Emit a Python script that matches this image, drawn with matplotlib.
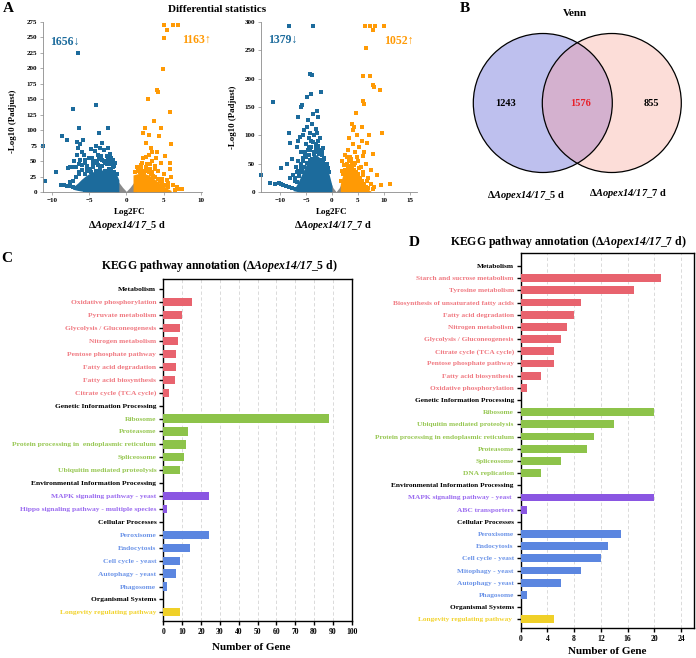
import matplotlib
matplotlib.use('Agg')
import matplotlib.pyplot as plt
from matplotlib.patches import Circle
import numpy as np

plt.rcParams['font.family'] = ['Liberation Serif', 'DejaVu Serif']
plt.rcParams['mathtext.fontset'] = 'custom'
plt.rcParams['mathtext.rm'] = 'Liberation Serif'
plt.rcParams['mathtext.it'] = 'Liberation Serif:italic'
plt.rcParams['mathtext.bf'] = 'Liberation Serif:bold'
plt.rcParams['mathtext.bfit'] = 'Liberation Serif:italic:bold'

# ---------------- DATA ----------------
strain5 = r'Δ$\mathbfit{Aopex14/17}$_5 d'
strain7 = r'Δ$\mathbfit{Aopex14/17}$_7 d'

# Volcano 5 d
v5_down, v5_up = 1656, 1163
v5_grey_x = [-1.5, -1.0, -0.5, 0.0, 0.5, 1.0, 1.4]
v5_grey_top = [20, 16, 8, 1.5, 8, 16, 20]
v5_blue_x = [-7.2, -6.5, -6.0, -5.5, -5.0, -4.5, -4.0, -3.5, -3.0, -2.5, -2.0, -1.5, -1.2, -1.0]
v5_blue_top = [8, 15, 21, 26, 30, 33, 35, 36, 36, 36, 34, 31, 26, 20]
v5_blue_bot = [5, 3, 2, 1, 0, 0, 0, 0, 0, 0, 0, 0, 0, 0]
v5_orange_x = [0.9, 1.5, 2.0, 2.5, 3.0, 3.5, 4.0, 4.5, 5.0, 5.5, 6.0]
v5_orange_top = [28, 30, 31, 30, 28, 24, 19, 15, 11, 6, 3]
v5_blue_px = [-11.2, -10.9, -9.4, -8.6, -8.0, -7.2, -6.5, -6.4, -6.6, -6.2, -4.1, -3.7, -2.5, -7.8, -7.5,
              -8.8, -8.4, -8.0, -7.6, -7.2, -6.8, -6.4, -6.0, -5.6, -5.2, -4.8,
              -6.5, -6.0, -5.7, -5.0, -4.7, -4.2, -3.8, -3.5, -3.0, -2.6, -2.2, -1.8, -1.5, -6.2, -5.5,
              -7.0, -7.2, -6.8, -4.5, -3.2, -2.8, -2.0, -5.2, -6.0, -7.5, -6.6, -4.0, -3.3, -5.8, -2.4,
              -5.3, -4.4, -3.6, -2.9, -2.3, -1.7, -4.9, -3.9, -6.3, -1.3,
              -6.3, -5.9, -5.6, -5.3, -5.0, -4.7, -4.4, -4.1, -3.8, -3.5, -3.2, -2.9, -2.6, -2.3, -2.0,
              -1.8, -1.6, -1.4, -6.8, -7.2, -7.6, -4.6, -3.4, -2.1, -1.9, -5.6, -6.4, -4.0, -3.0, -2.5]
v5_blue_py = [75, 18, 32, 90, 84, 135, 225, 103, 81, 78, 141, 95, 103, 39, 16,
              12, 11, 10, 9.5, 8.5, 7.5, 6.5, 5.5, 4.5, 3.5, 3,
              72, 65, 60, 55, 70, 66, 60, 72, 68, 58, 62, 52, 48, 52, 47,
              50, 40, 40, 50, 52, 48, 46, 42, 44, 40, 60, 75, 80, 84, 72,
              38, 46, 54, 50, 45, 42, 36, 50, 30, 30,
              32, 36, 30, 34, 38, 33, 40, 35, 44, 37, 42, 35, 45, 38, 34,
              40, 33, 30, 24, 18, 14, 56, 58, 55, 50, 52, 46, 48, 50, 52]
v5_orange_px = [6.3, 6.9, 5.1, 5.4, 5.0, 4.9, 4.1, 4.2, 2.9, 5.8, 3.7, 4.6, 2.5, 2.2, 3.0, 6.0, 3.3, 4.1,
                5.9, 5.8, 7.4, 6.5, 5.6, 2.6, 2.1,
                2.0, 2.4, 2.8, 3.2, 3.5, 3.8, 4.2, 4.6, 5.0, 2.2, 3.0, 4.0, 5.5, 6.2, 6.8, 3.5, 2.7,
                4.4, 6.0, 5.2, 1.6, 1.9, 3.4, 4.8, 7.0,
                1.2, 1.5, 1.8, 2.1, 2.4, 2.7, 3.0, 3.3, 3.6, 3.9, 4.2, 4.5, 4.8, 5.1, 1.4, 2.0, 2.6, 3.2,
                3.9, 5.6]
v5_orange_py = [270, 270, 270, 261, 248, 199, 165, 162, 150, 129, 115, 103, 104, 95, 92, 78, 72, 65,
                47, 38, 6, 4, 9, 57, 47,
                40, 35, 45, 38, 50, 42, 35, 48, 30, 55, 60, 55, 20, 12, 8, 65, 80,
                90, 25, 58, 34, 38, 33, 22, 5,
                33, 36, 32, 35, 31, 34, 32, 29, 27, 24, 21, 18, 15, 12, 40, 44, 40, 45,
                38, 15]

# Volcano 7 d
v7_down, v7_up = 1379, 1052
v7_grey_x = [-0.4, 0.2, 0.8, 1.4, 2.0]
v7_grey_top = [20, 8, 1, 8, 20]
v7_blue_x = [-7.5, -7.0, -6.5, -6.0, -5.5, -5.0, -4.5, -4.0, -3.5, -3.0, -2.5, -2.0, -1.5, -1.0, -0.5, 0.0]
v7_blue_top = [5, 10, 18, 28, 38, 48, 56, 62, 66, 66, 62, 58, 52, 44, 30, 12]
v7_blue_bot = [3, 2, 1, 0, 0, 0, 0, 0, 0, 0, 0, 0, 0, 0, 0, 0]
v7_orange_x = [1.6, 2.0, 2.5, 3.0, 3.5, 4.0, 4.5, 5.0, 5.5, 6.0, 6.5, 7.0, 7.5]
v7_orange_top = [14, 28, 38, 44, 46, 44, 38, 31, 24, 17, 10, 5, 2]
v7_blue_px = [-13.7, -11.3, -8.3, -3.6, -4.2, -3.8, -2.1, -4.1, -4.8, -5.7, -6.0, -2.9, -3.6, -6.5, -2.6,
              -4.6, -8.3, -8.0, -8.7, -9.8, -7.6, -6.8, -6.2, -5.3, -2.8,
              -11.9, -11.0, -10.2, -9.8, -9.4, -8.8, -8.2, -7.6, -7.0, -6.5,
              -7.0, -6.5, -6.0, -5.5, -5.0, -4.5, -4.0, -3.5, -3.0, -2.5, -2.0, -1.5, -5.2, -4.2, -3.3,
              -6.8, -7.5, -8.0, -5.8, -4.8, -3.8, -4.3, -3.1, -6.6, -5.6, -2.3, -1.8,
              -5.9, -4.4, -3.4, -2.7, -1.2, -7.2, -6.3, -5.1,
              -6.8, -6.3, -5.8, -5.3, -4.8, -4.3, -3.8, -3.3, -2.8, -2.3, -1.8, -1.3, -0.8, -5.5, -4.5,
              -3.5, -2.5, -1.5, -5.0, -4.0, -3.0, -2.0, -6.0, -6.5, -7.2, -1.0, -0.6, -4.6, -3.7, -2.6]
v7_blue_py = [30, 158, 292, 292, 208, 206, 177, 172, 167, 153, 150, 143, 137, 133, 132,
              127, 104, 87, 50, 42, 58, 80, 98, 110, 104,
              16, 14, 17, 15, 12, 11, 9, 8, 6, 5,
              45, 55, 70, 60, 85, 95, 90, 100, 85, 75, 65, 60, 70, 75, 70,
              35, 30, 25, 40, 115, 120, 105, 112, 90, 100, 95, 78,
              50, 80, 68, 82, 45, 20, 35, 65,
              18, 28, 36, 44, 52, 56, 58, 60, 58, 56, 52, 48, 42, 55, 65,
              70, 68, 58, 62, 80, 78, 72, 45, 38, 25, 50, 35, 74, 88, 90]
v7_orange_px = [6.3, 7.3, 8.3, 10.0, 7.8, 6.5, 6.0, 7.3, 7.8, 8.1, 9.2, 5.9, 6.2, 4.6, 3.8, 4.2, 9.6, 5.7,
                7.2, 7.9, 11.2, 9.4, 6.7, 5.9,
                2.0, 2.5, 3.0, 3.5, 4.0, 4.5, 5.0, 5.5, 6.0, 3.2, 4.8, 5.2, 6.5, 7.0, 7.5, 8.0, 2.8, 3.8,
                4.3, 6.2, 5.8, 4.0, 8.6, 7.6, 3.4,
                1.8, 2.2, 2.6, 3.0, 3.4, 3.8, 4.2, 4.6, 5.0, 5.4, 5.8, 6.2, 6.6, 7.0, 2.4, 3.2, 3.6, 4.4,
                5.2, 6.0, 2.0, 2.8, 4.8, 6.8, 7.8]
v7_orange_py = [292, 292, 292, 292, 286, 254, 204, 205, 189, 186, 180, 161, 155, 139, 120, 115, 105, 114,
                101, 67, 15, 13, 86, 63,
                55, 65, 75, 60, 85, 70, 55, 45, 35, 95, 100, 80, 50, 25, 15, 10, 50, 52,
                48, 70, 90, 110, 30, 40, 62,
                20, 32, 40, 44, 46, 44, 40, 36, 32, 26, 20, 15, 10, 8, 48, 55, 58, 52,
                42, 30, 38, 62, 62, 20, 6]

# Venn
venn_only5, venn_both, venn_only7 = 1243, 1576, 855

# KEGG 5 d
c_groups = [
    ('Metabolism',
     ['Oxidative phosphorylation', 'Pyruvate metabolism', 'Glycolysis / Gluconeogenesis',
      'Nitrogen metabolism', 'Pentose phosphate pathway', 'Fatty acid degradation',
      'Fatty acid biosynthesis', 'Citrate cycle (TCA cycle)'],
     [15, 10, 9, 8, 7, 7, 6, 3]),
    ('Genetic Information Processing',
     ['Ribosome', 'Proteasome', 'Protein processing in  endoplasmic reticulum', 'Spliceosome',
      'Ubiquitin mediated proteolysis'],
     [88, 13, 12, 11, 9]),
    ('Environmental Information Processing',
     ['MAPK signaling pathway - yeast', 'Hippo signaling pathway - multiple species'],
     [24, 2]),
    ('Cellular Processes',
     ['Peroxisome', 'Endocytosis', 'Cell cycle - yeast', 'Autophagy - yeast', 'Phagosome'],
     [24, 14, 9, 7, 2]),
    ('Organismal Systems',
     ['Longevity regulating pathway'],
     [9]),
]
# KEGG 7 d
d_groups = [
    ('Metabolism',
     ['Starch and sucrose metabolism', 'Tyrosine metabolism', 'Biosynthesis of unsaturated fatty acids',
      'Fatty acid degradation', 'Nitrogen metabolism', 'Glycolysis / Gluconeogenesis',
      'Citrate cycle (TCA cycle)', 'Pentose phosphate pathway', 'Fatty acid biosynthesis',
      'Oxidative phosphorylation'],
     [21, 17, 9, 8, 7, 6, 5, 5, 3, 1]),
    ('Genetic Information Processing',
     ['Ribosome', 'Ubiquitin mediated proteolysis', 'Protein processing in endoplasmic reticulum',
      'Proteasome', 'Spliceosome', 'DNA replication'],
     [20, 14, 11, 10, 6, 3]),
    ('Environmental Information Processing',
     ['MAPK signaling pathway - yeast ', 'ABC transporters'],
     [20, 1]),
    ('Cellular Processes',
     ['Peroxisome', 'Endocytosis', 'Cell cycle - yeast', 'Mitophagy - yeast', 'Autophagy - yeast',
      'Phagosome'],
     [15, 13, 12, 9, 6, 1]),
    ('Organismal Systems',
     ['Longevity regulating pathway '],
     [5]),
]
c_xticks = [0, 10, 20, 30, 40, 50, 60, 70, 80, 90, 100]
d_xticks = [0, 4, 8, 12, 16, 20, 24]

# ---------------- STYLE ----------------
BLUE = '#1C6B9C'
ORANGE = '#FF9A05'
GREY = '#8A8A8A'
bar_colors = ['#E8636E', '#8DC34A', '#8A56E2', '#5B86E0', '#F0D028']
txt_colors = ['#F07A82', '#97C752', '#9B6CF0', '#6C94E8', '#F2D32E']

W, H = 696, 658
fig = plt.figure(figsize=(W / 100, H / 100), dpi=100)


def add_ax(l, t, r, b):
    return fig.add_axes([l / W, 1 - b / H, (r - l) / W, (b - t) / H])


def ftext(x, y, s, **kw):
    kw.setdefault('ha', 'center')
    kw.setdefault('va', 'center')
    kw.setdefault('fontweight', 'bold')
    fig.text(x / W, 1 - y / H, s, **kw)


def volcano(ax, xlim, ylim, xticks, yticks, gx, gt, bx, bt, bb, ox, ot, bpx, bpy, opx, opy):
    ax.fill_between(gx, 0, gt, color=GREY, lw=0)
    ax.fill_between(bx, bb, bt, color=BLUE, lw=0)
    ax.fill_between(ox, 0, ot, color=ORANGE, lw=0)
    ax.scatter(bpx, bpy, s=5.5, color=BLUE, lw=0, marker='s', clip_on=False)
    ax.scatter(opx, opy, s=5.5, color=ORANGE, lw=0, marker='s', clip_on=False)
    ax.set_xlim(*xlim)
    ax.set_ylim(*ylim)
    ax.set_xticks(xticks)
    ax.set_yticks(yticks)
    for s in ['top', 'right']:
        ax.spines[s].set_visible(False)
    for s in ['left', 'bottom']:
        ax.spines[s].set_color('#8c8c8c')
        ax.spines[s].set_linewidth(0.6)
    ax.tick_params(labelsize=5, length=2, width=0.5, color='#8c8c8c', pad=2)
    for lab in ax.get_xticklabels() + ax.get_yticklabels():
        lab.set_fontweight('bold')
    ax.patch.set_alpha(0)


# Panel A
axA1 = add_ax(42.7, 21.7, 201.7, 192.3)
volcano(axA1, (-11.2, 10.1), (0, 275), [-10, -5, 0, 5, 10], list(range(0, 276, 25)),
        v5_grey_x, v5_grey_top, v5_blue_x, v5_blue_top, v5_blue_bot, v5_orange_x, v5_orange_top,
        v5_blue_px, v5_blue_py, v5_orange_px, v5_orange_py)
axA2 = add_ax(260.7, 21.7, 416.7, 192.3)
volcano(axA2, (-13.7, 16.3), (0, 300), [-10, -5, 0, 5, 10, 15], list(range(0, 301, 50)),
        v7_grey_x, v7_grey_top, v7_blue_x, v7_blue_top, v7_blue_bot, v7_orange_x, v7_orange_top,
        v7_blue_px, v7_blue_py, v7_orange_px, v7_orange_py)

ftext(8, 9, 'A', fontsize=11)
ftext(217, 9, 'Differential statistics', fontsize=8)
ftext(64.5, 42, f'{v5_down}↓', fontsize=8.5, color=BLUE)
ftext(196.5, 40, f'{v5_up}↑', fontsize=8.5, color=ORANGE)
ftext(283, 40, f'{v7_down}↓', fontsize=8.5, color=BLUE)
ftext(398.5, 41, f'{v7_up}↑', fontsize=8.5, color=ORANGE)
ftext(13, 121, '-Log10 (Padjust)', fontsize=6.3, rotation=90)
ftext(233, 117, '-Log10 (Padjust)', fontsize=6.3, rotation=90)
ftext(130, 212, 'Log2FC', fontsize=6.5)
ftext(332, 212, 'Log2FC', fontsize=6.5)
ftext(127, 226, strain5, fontsize=7.5)
ftext(333, 226, strain7, fontsize=7.5)

# Panel B (Venn)
axB = add_ax(455, 25, 696, 185)
axB.set_xlim(455, 696)
axB.set_ylim(185, 25)
axB.axis('off')
cL = Circle((542.8, 103), 69.5, facecolor='#BEC0EE', edgecolor='none')
cR = Circle((611.8, 103), 69.5, facecolor='#FCDDD8', edgecolor='none')
axB.add_patch(cL)
axB.add_patch(cR)
cO = Circle((611.8, 103), 69.5, facecolor='#D4B1CF', edgecolor='none')
axB.add_patch(cO)
cO.set_clip_path(cL)
for c in [(542.8, 103), (611.8, 103)]:
    axB.add_patch(Circle(c, 69.5, facecolor='none', edgecolor='black', lw=0.9))
axB.text(505.7, 103, str(venn_only5), ha='center', va='center', fontsize=7.5, fontweight='bold')
axB.text(581, 103, str(venn_both), ha='center', va='center', fontsize=7.5, fontweight='bold',
         color='#E8202A')
axB.text(651.7, 103, str(venn_only7), ha='center', va='center', fontsize=7.5, fontweight='bold')
ftext(465, 8, 'B', fontsize=11)
ftext(575, 14, 'Venn', fontsize=8)
ftext(526, 196, strain5, fontsize=7.5)
ftext(628, 193, strain7, fontsize=7.5)


def kegg(ax, groups, xmax, xticks, ylim, label_fs):
    labels, lcolors = [], []
    bar_y, bar_v, bar_c = [], [], []
    i = 0
    for gi, (header, names, vals) in enumerate(groups):
        labels.append(header)
        lcolors.append('black')
        i += 1
        for n, v in zip(names, vals):
            labels.append(n)
            lcolors.append(txt_colors[gi])
            bar_y.append(i)
            bar_v.append(v)
            bar_c.append(bar_colors[gi])
            i += 1
    ax.barh(bar_y, bar_v, height=0.64, color=bar_c, zorder=3)
    ax.set_yticks(range(len(labels)))
    ax.set_yticklabels(labels)
    for lab, col in zip(ax.get_yticklabels(), lcolors):
        lab.set_color(col)
        lab.set_fontweight('bold')
        lab.set_fontsize(label_fs)
    ax.set_ylim(*ylim)
    ax.set_xlim(0, xmax)
    ax.set_xticks(xticks)
    ax.xaxis.grid(True, linestyle=(0, (4, 3)), color='#d4d4d4', lw=0.6)
    ax.set_axisbelow(True)
    for s in ax.spines.values():
        s.set_linewidth(1.0)
    ax.tick_params(axis='y', length=3, width=1, pad=2)
    ax.tick_params(axis='x', length=3, width=1, labelsize=5.5, pad=2)
    for lab in ax.get_xticklabels():
        lab.set_fontweight('bold')


axC = add_ax(163.3, 279, 351.7, 621)
kegg(axC, c_groups, 100, c_xticks, (25.67, -0.8), 5.4)
axD = add_ax(520.7, 253.3, 694.3, 627.7)
kegg(axD, d_groups, 26, d_xticks, (29.69, -1.04), 5.3)

ftext(7, 258, 'C', fontsize=11)
ftext(219, 266, r'KEGG pathway annotation (' + strain5 + ')', fontsize=8.5)
ftext(251, 648, 'Number of Gene', fontsize=8)
ftext(414, 242, 'D', fontsize=11)
ftext(568.8, 242, r'KEGG pathway annotation (' + strain7 + ')', fontsize=8.5)
ftext(607, 651, 'Number of Gene', fontsize=8)

fig.savefig('out.png', dpi=100)
